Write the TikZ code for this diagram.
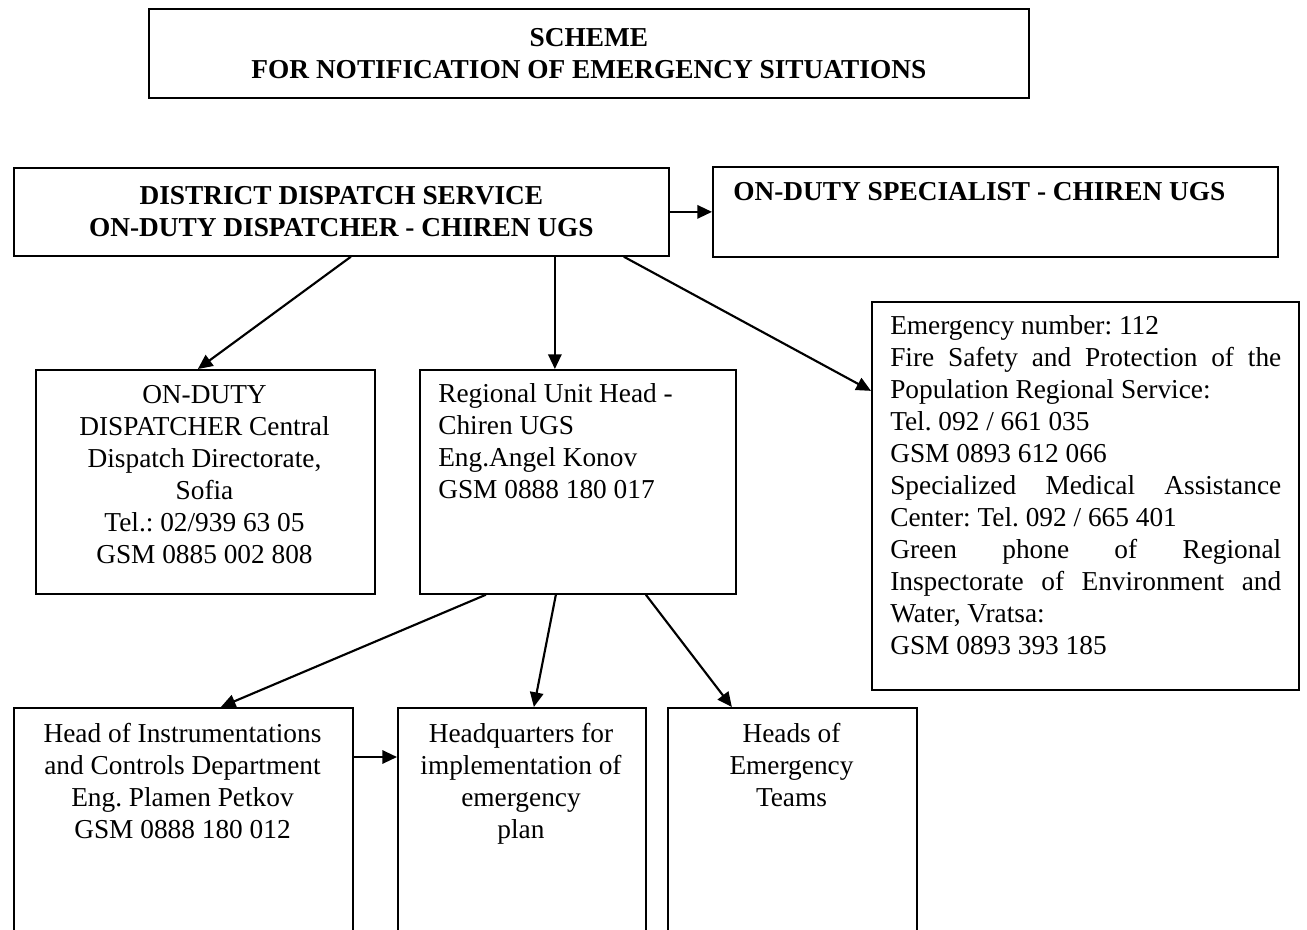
\documentclass[tikz,border=0pt]{standalone}
\usepackage{fontspec}
\setmainfont{Liberation Serif}
\usetikzlibrary{arrows.meta}
\frenchspacing
\newcommand{\px}{0.75pt}
\newcommand{\dfont}{\fontsize{20.5pt}{24pt}\selectfont}
\tikzset{
  box/.style={draw,line width=1.3pt,inner sep=0pt,anchor=north west},
  txt/.style={inner sep=0pt,align=center},
  arr/.style={line width=1.6pt,-{Triangle[length=11pt,width=10pt]}}
}

\begin{document}
\begin{tikzpicture}[x=\px,y=-\px,font=\dfont]
    \useasboundingbox (0,0) rectangle (1307,929);
    \clip (0,0) rectangle (1307,929);
    % top row
    \node[box,minimum width=880*\px,minimum height=89*\px,align=center,font=\dfont\bfseries] (T) at (148,8) {SCHEME\\FOR NOTIFICATION OF EMERGENCY SITUATIONS};
    \node[box,minimum width=655*\px,minimum height=88*\px,align=center,font=\dfont\bfseries] (D) at (13,167) {DISTRICT DISPATCH SERVICE\\ON-DUTY DISPATCHER - CHIREN UGS};
    \node[box,minimum width=565*\px,minimum height=90*\px] (S) at (712,166) {};
    \node[txt,anchor=north west,font=\dfont\bfseries] (St) at (733,182) {ON-DUTY SPECIALIST - CHIREN UGS};
    % middle row
    \node[box,minimum width=339*\px,minimum height=224*\px] (C) at (35,369) {};
    \node[txt,anchor=north] (Ct) at (204.5,385) {ON-DUTY\\DISPATCHER Central\\Dispatch Directorate,\\Sofia\\Tel.: 02/939 63 05\\GSM 0885 002 808};
    \node[box,minimum width=316*\px,minimum height=224*\px] (R) at (419,369) {};
    \node[txt,anchor=north west,align=left] (Rt) at (438,383) {Regional Unit Head -\\Chiren UGS\\Eng.Angel Konov\\GSM 0888 180 017};
    \node[box,minimum width=427*\px,minimum height=388*\px] (E) at (871,301) {};
    \node[txt,anchor=north west,align=justify,text width=391*\px] (Et) at (890,315) {Emergency number: 112\\
      Fire Safety and Protection of the\linebreak Population Regional Service:\\
      Tel. 092 / 661 035\\
      GSM 0893 612 066\\
      Specialized Medical Assistance\linebreak Center: Tel. 092 / 665 401\\
      Green phone of Regional\linebreak Inspectorate of Environment and\linebreak Water, Vratsa:\\
      GSM 0893 393 185};
    % bottom row
    \node[box,minimum width=339*\px,minimum height=240*\px] (I) at (13,707) {};
    \node[txt,anchor=north] (It) at (182.5,723) {Head of Instrumentations\\and Controls Department\\Eng. Plamen Petkov\\GSM 0888 180 012};
    \node[box,minimum width=248*\px,minimum height=240*\px] (H) at (397,707) {};
    \node[txt,anchor=north] (Ht) at (521,723) {Headquarters for\\implementation of\\emergency\\plan};
    \node[box,minimum width=249*\px,minimum height=240*\px] (ET) at (667,707) {};
    \node[txt,anchor=north] (ETt) at (791.5,723) {Heads of\\Emergency\\Teams};
    % arrows
    \path[arr] (D.east) edge (S.west);
    \path[arr] ([xshift=9.5*\px]D.south) edge ([xshift=-7.5*\px]C.north);
    \path[arr] ([xshift=213.5*\px]D.south) edge ([xshift=-23*\px]R.north);
    \path[arr] ([xshift=282.5*\px]D.south) edge ([yshift=105*\px]E.west);
    \path[arr] ([xshift=-92*\px]R.south) edge ([xshift=37.5*\px]I.north);
    \path[arr] ([xshift=-22*\px]R.south) edge ([xshift=12*\px]H.north);
    \path[arr] ([xshift=68*\px]R.south) edge ([xshift=-60.5*\px]ET.north);
    \path[arr] ([yshift=-50*\px]I.north east) edge ([yshift=-50*\px]H.north west);
\end{tikzpicture}
\end{document}
